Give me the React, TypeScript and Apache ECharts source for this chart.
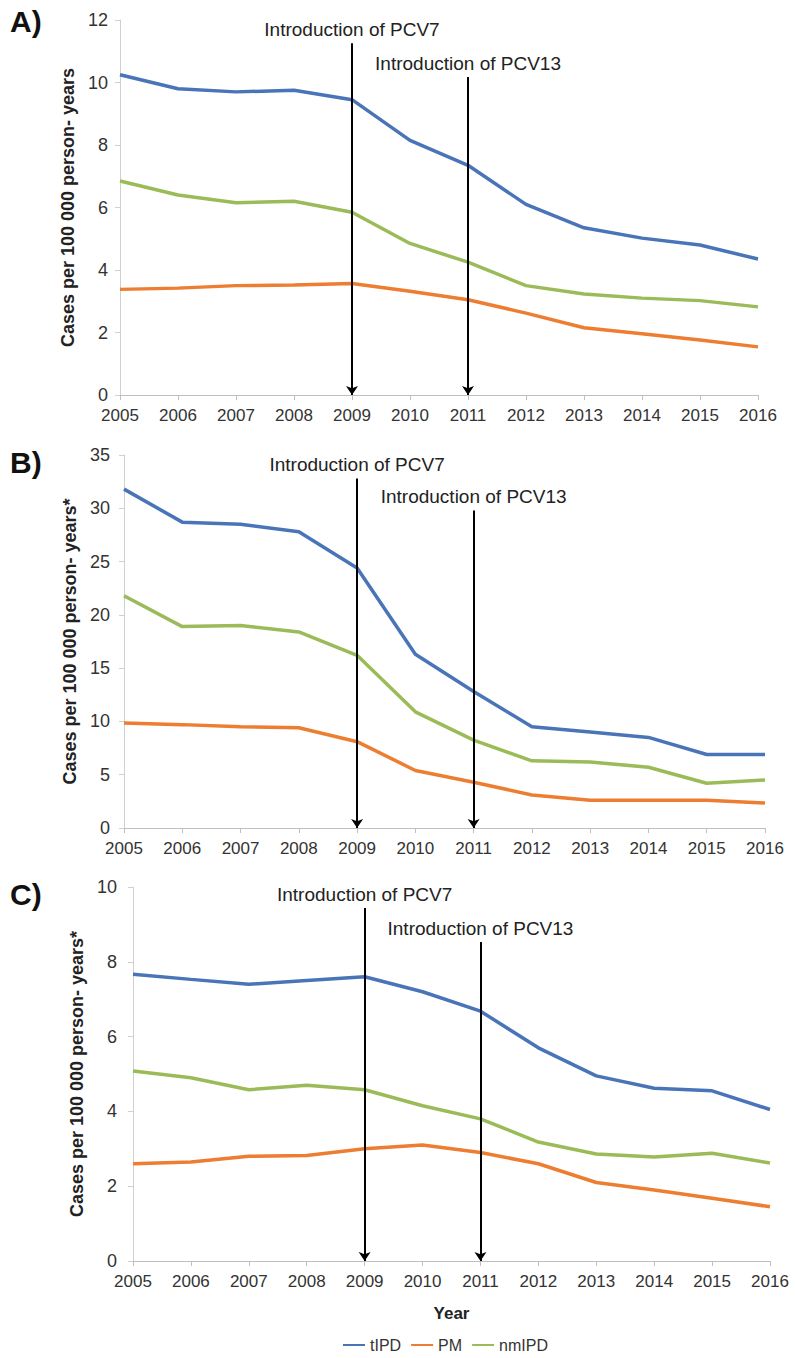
import React, { useEffect, useRef } from "react";
import * as echarts from "echarts";

const years = ["2005", "2006", "2007", "2008", "2009", "2010", "2011", "2012", "2013", "2014", "2015", "2016"];
const seriesNames = ["tIPD", "PM", "nmIPD"];
const seriesColors = ["#4a74b8", "#ed7d31", "#9bbb59"];

// Panel A
const tipdA = [10.25, 9.8, 9.7, 9.75, 9.45, 8.15, 7.35, 6.1, 5.35, 5.02, 4.8, 4.35];
const pmA = [3.38, 3.42, 3.5, 3.52, 3.57, 3.32, 3.05, 2.62, 2.15, 1.96, 1.76, 1.54];
const nmipdA = [6.85, 6.4, 6.15, 6.2, 5.85, 4.85, 4.25, 3.5, 3.23, 3.1, 3.02, 2.82];
const yTicksA = { min: 0, max: 12, interval: 2 };

// Panel B
const tipdB = [31.8, 28.7, 28.5, 27.8, 24.4, 16.3, 12.8, 9.5, 9.0, 8.5, 6.9, 6.9];
const pmB = [9.85, 9.7, 9.5, 9.4, 8.1, 5.4, 4.3, 3.1, 2.6, 2.6, 2.6, 2.35];
const nmipdB = [21.8, 18.9, 19.0, 18.4, 16.2, 10.9, 8.25, 6.3, 6.2, 5.7, 4.2, 4.5];
const yTicksB = { min: 0, max: 35, interval: 5 };

// Panel C
const tipdC = [7.67, 7.53, 7.4, 7.5, 7.6, 7.2, 6.68, 5.7, 4.95, 4.62, 4.55, 4.05];
const pmC = [2.6, 2.65, 2.8, 2.82, 3.0, 3.1, 2.9, 2.6, 2.1, 1.9, 1.68, 1.45];
const nmipdC = [5.08, 4.9, 4.58, 4.7, 4.58, 4.15, 3.8, 3.18, 2.86, 2.78, 2.88, 2.62];
const yTicksC = { min: 0, max: 10, interval: 2 };

const pcvYears = ["2009", "2011"];
const pcvLabels = ["Introduction of PCV7", "Introduction of PCV13"];
const arrowTopsA = [11.26, 10.18];
const arrowTopsB = [32.8, 29.8];
const arrowTopsC = [9.44, 8.53];

const panelLetters = ["A)", "B)", "C)"];
const yTitles = [
  "Cases per 100 000 person- years",
  "Cases per 100 000 person- years*",
  "Cases per 100 000 person- years*",
];

const FONT = "'Liberation Sans', Arial, sans-serif";

export default function App() {
  const ref = useRef<HTMLDivElement>(null);

  useEffect(() => {
    document.body.style.margin = "0";
    if (!ref.current) return;
    const chart = echarts.init(ref.current, null, { renderer: "svg" });

    const grids = [
      { left: 120, top: 20, width: 638, height: 375 },
      { left: 124, top: 455, width: 641, height: 373 },
      { left: 133, top: 887, width: 637, height: 374 },
    ];
    const yTicks = [yTicksA, yTicksB, yTicksC];
    const data = [
      [tipdA, pmA, nmipdA],
      [tipdB, pmB, nmipdB],
      [tipdC, pmC, nmipdC],
    ];
    const arrowTops = [arrowTopsA, arrowTopsB, arrowTopsC];
    const nameGaps = [43, 43, 46];
    const yLabelMargins = [12, 14, 16];

    const xAxis = grids.map((_, i) => ({
      type: "category",
      gridIndex: i,
      data: years,
      boundaryGap: false,
      axisLine: { lineStyle: { color: "#bfbfbf", width: 1 } },
      axisTick: { show: true, length: 5, alignWithLabel: true, lineStyle: { color: "#bfbfbf" } },
      axisLabel: { color: "#333", fontSize: 17, fontFamily: FONT, margin: 12 },
      name: i === 2 ? "Year" : "",
      nameLocation: "middle",
      nameGap: 44,
      nameTextStyle: { fontSize: 17, fontWeight: "bold", color: "#222", fontFamily: FONT },
    }));

    const yAxis = grids.map((_, i) => ({
      type: "value",
      gridIndex: i,
      min: yTicks[i].min,
      max: yTicks[i].max,
      interval: yTicks[i].interval,
      splitLine: { show: false },
      axisLine: { show: true, lineStyle: { color: "#d0d0d0", width: 1 } },
      axisTick: { show: true, length: 5, lineStyle: { color: "#d0d0d0" } },
      axisLabel: { color: "#333", fontSize: 18, fontFamily: FONT, margin: yLabelMargins[i] },
      name: yTitles[i],
      nameLocation: "middle",
      nameGap: nameGaps[i],
      nameTextStyle: { fontSize: 18, fontWeight: "bold", color: "#222", fontFamily: FONT },
    }));

    const series: any[] = [];
    for (let p = 0; p < 3; p++) {
      for (let s = 0; s < 3; s++) {
        const item: any = {
          type: "line",
          name: seriesNames[s],
          xAxisIndex: p,
          yAxisIndex: p,
          data: data[p][s],
          symbol: "none",
          color: seriesColors[s],
          lineStyle: { width: 3.5, color: seriesColors[s] },
          z: 2,
        };
        if (s === 0) {
          item.markLine = {
            silent: true,
            symbol: ["none", "arrow"],
            symbolSize: 9,
            z: 5,
            lineStyle: { color: "#000", width: 2, type: "solid" },
            data: pcvYears.map((yr, k) => [
              {
                coord: [yr, arrowTops[p][k]],
                label: {
                  show: true,
                  position: "start",
                  formatter: pcvLabels[k],
                  color: "#222",
                  fontSize: 19,
                  fontFamily: FONT,
                  distance: 4,
                },
                lineStyle: { color: "#000", width: 2 },
              },
              { coord: [yr, 0] },
            ]),
          };
        }
        series.push(item);
      }
    }

    const letterTops = [6, 447, 879];
    const graphic = panelLetters.map((t, i) => ({
      type: "text",
      left: 10,
      top: letterTops[i],
      style: { text: t, fontSize: 30, fontWeight: "bold", fill: "#111", fontFamily: FONT },
    }));

    chart.setOption({
      animation: false,
      backgroundColor: "#fff",
      textStyle: { fontFamily: FONT },
      grid: grids,
      xAxis,
      yAxis,
      series,
      graphic,
      legend: {
        data: seriesNames,
        left: 343,
        top: 1336,
        padding: 0,
        itemWidth: 22,
        itemHeight: 12,
        itemGap: 10,
        icon: "path://M0,5 L22,5 L22,7 L0,7 Z",
        textStyle: { fontSize: 16, lineHeight: 18, color: "#333", fontFamily: FONT },
      },
    });

    return () => chart.dispose();
  }, []);

  return <div ref={ref} style={{ width: 795, height: 1358 }} />;
}
